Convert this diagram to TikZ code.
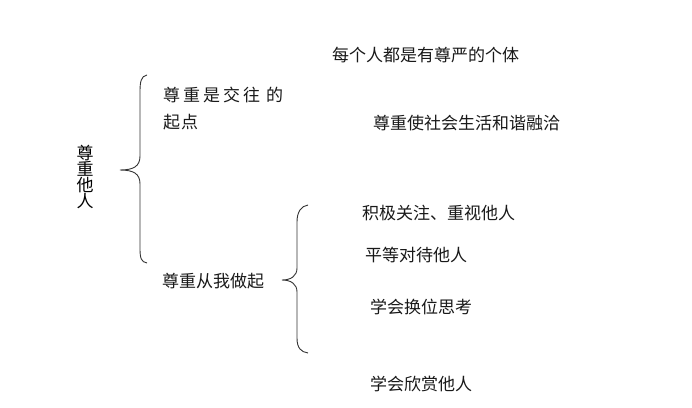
\documentclass[tikz,border=0pt]{standalone}
\usepackage{fontspec}
\newfontfamily\cjk{Noto Sans CJK SC}
\newcommand{\gp}{\hspace{3pt}}
\begin{document}
\begin{tikzpicture}[x=1pt,y=-1pt,
  lbl/.style={font=\cjk\fontsize{17}{19}\selectfont, inner sep=0pt, anchor=west, text=black!90},
  bracestyle/.style={draw=black!80, line width=0.9pt}]
\useasboundingbox[fill=white] (0,0) rectangle (692,407);
% vertical title
\node[font=\cjk\fontsize{17}{17}\selectfont, inner sep=0pt, align=center] (title) at (85,177) {尊\\[-1pt]重\\[-1pt]他\\[-1pt]人};
% first brace
\coordinate (b1tip) at (120,170);
\draw[bracestyle] (147,75) .. controls (141,76) and (140,82) .. (140,92) -- (140,156)
  .. controls (140,166) and (134,170) .. (b1tip)
  (b1tip) .. controls (134,170) and (140,174) .. (140,184) -- (140,248)
  .. controls (140,258) and (141,262) .. (147,263);
% second brace
\coordinate (b2tip) at (282,280);
\draw[bracestyle] (308,205) .. controls (301,206) and (297,212) .. (297,222) -- (297,268)
  .. controls (297,276) and (291,280) .. (b2tip)
  (b2tip) .. controls (291,280) and (297,284) .. (297,292) -- (297,338)
  .. controls (297,348) and (301,352) .. (308,353);
% labels
\node[lbl] (a1) at (163,95) {尊\gp 重\gp 是\gp 交\gp 往\gp\gp 的};
\node[lbl] (a2) at (163,122) {起\hspace{1pt}点};
\node[lbl] (b) at (162,281) {尊重从我做起};
\node[lbl] (t1) at (332,55) {每个人都是有尊严的个体};
\node[lbl] (t2) at (373,123) {尊重使社会生活和谐融洽};
\node[lbl] (c1) at (362,213) {积极关注、重视他人};
\node[lbl] (c2) at (365,255) {平等对待他人};
\node[lbl] (c3) at (370,307) {学会换位思考};
\node[lbl] (c4) at (370,384) {学会欣赏他人};
\end{tikzpicture}
\end{document}
